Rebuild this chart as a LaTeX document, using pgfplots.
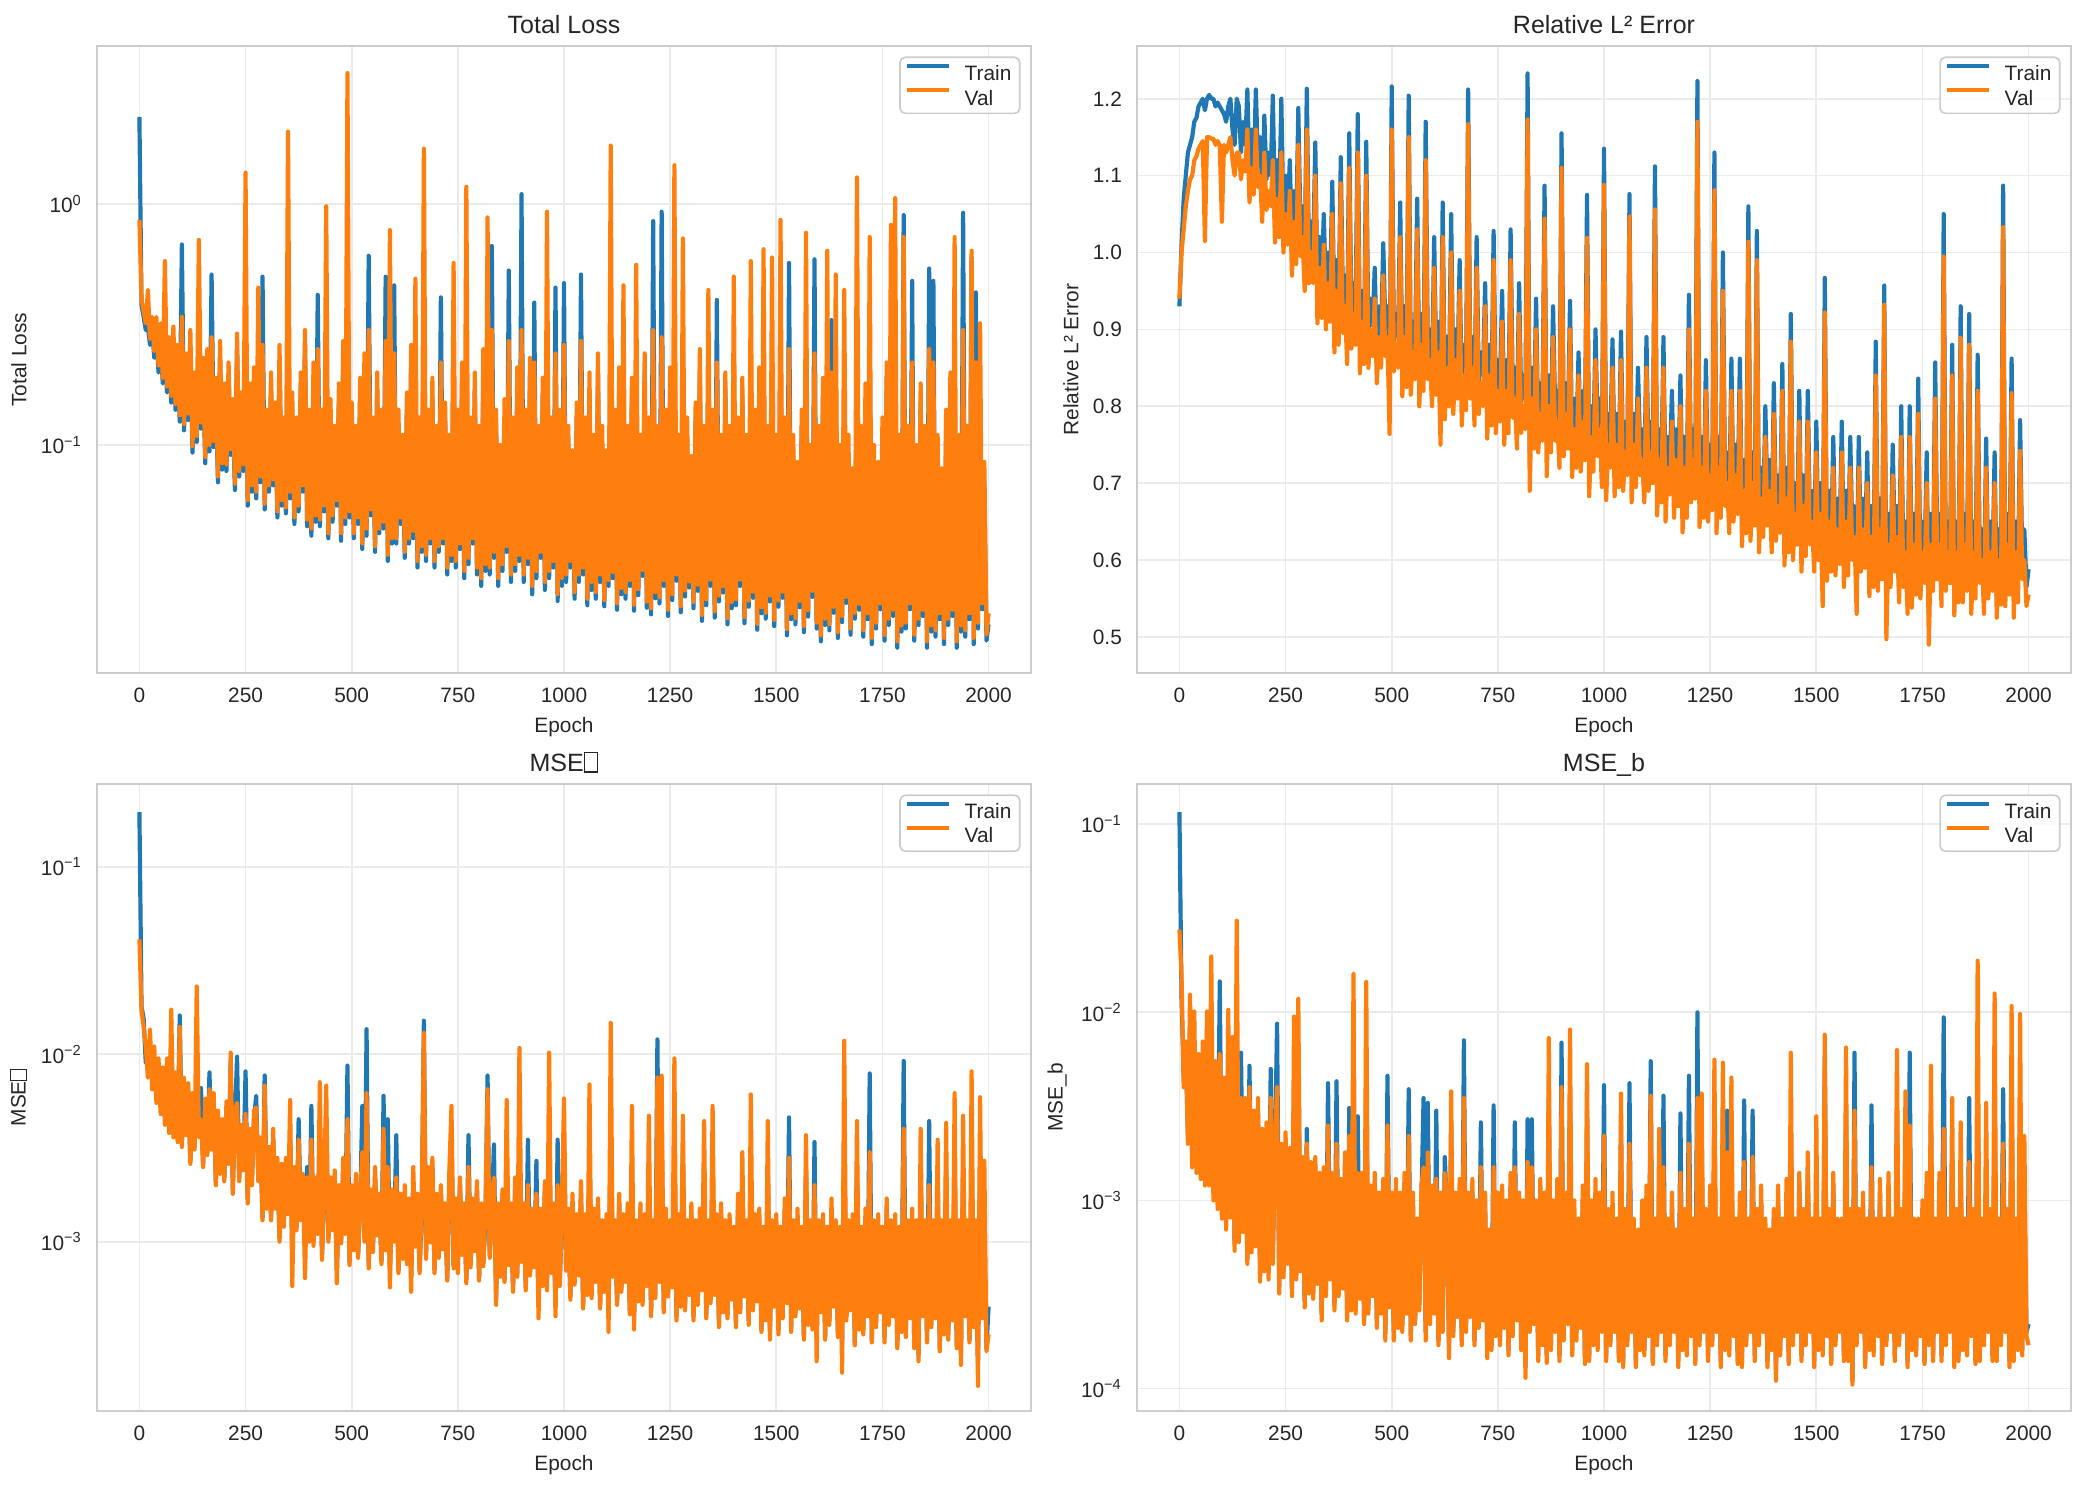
\documentclass[border=0pt]{standalone}
\usepackage{fontspec}
\setmainfont{Liberation Sans}
\usepackage{pgfplots}
\pgfplotsset{compat=1.18}
\usepackage{pgfplotstable}
\definecolor{cTrain}{HTML}{1F77B4}
\definecolor{cVal}{HTML}{FF7F0E}
\definecolor{cGrid}{HTML}{EBEBEB}
\definecolor{cSpine}{HTML}{CCCCCC}
\definecolor{cText}{HTML}{262626}
\newcommand{\tofu}{{\setlength{\fboxsep}{0pt}\setlength{\fboxrule}{0.5pt}\fbox{\rule{0pt}{0.72em}\hspace{0.5em}}}}

\pgfplotstableread[row sep=\\]{
x t v\\
0 2.3 0.86\\ 5 0.38 0.40\\ 10 0.34 0.36\\ 15 0.30 0.32\\ 20 0.31 0.44\\ 25 0.26 0.275\\ 30 0.30 0.34\\ 35 0.23 0.245\\ 40 0.29 0.34\\ 45 0.20 0.213\\
50 0.27 0.32\\ 55 0.18 0.19\\ 60 0.26 0.58\\ 65 0.165 0.175\\ 70 0.24 0.28\\ 75 0.15 0.16\\ 80 0.27 0.31\\ 85 0.14 0.148\\ 90 0.22 0.26\\ 95 0.125 0.133\\
100 0.68 0.34\\ 105 0.115 0.122\\ 110 0.20 0.24\\ 115 0.127 0.135\\ 120 0.26 0.30\\ 125 0.093 0.099\\ 130 0.17 0.20\\ 135 0.103 0.109\\ 140 0.30 0.71\\ 145 0.117 0.124\\
150 0.19 0.23\\ 155 0.084 0.089\\ 160 0.21 0.25\\ 165 0.094 0.1\\ 170 0.51 0.28\\ 175 0.098 0.104\\ 180 0.16 0.19\\ 185 0.070 0.074\\ 190 0.23 0.27\\ 195 0.079 0.084\\
200 0.15 0.18\\ 205 0.078 0.083\\ 210 0.19 0.22\\ 215 0.091 0.096\\ 220 0.13 0.155\\ 225 0.065 0.069\\ 230 0.25 0.29\\ 235 0.074 0.078\\ 240 0.14 0.165\\ 245 0.078 0.083\\
250 0.30 1.35\\ 255 0.056 0.059\\ 260 0.15 0.18\\ 265 0.064 0.068\\ 270 0.18 0.21\\ 275 0.06 0.064\\ 280 0.21 0.45\\ 285 0.07 0.074\\ 290 0.50 0.26\\ 295 0.054 0.057\\
300 0.12 0.14\\ 305 0.064 0.068\\ 310 0.17 0.20\\ 315 0.068 0.072\\ 320 0.13 0.15\\ 325 0.05 0.053\\ 330 0.22 0.26\\ 335 0.056 0.059\\ 340 0.11 0.13\\ 345 0.052 0.055\\
350 0.24 2.0\\ 355 0.06 0.064\\ 360 0.14 0.165\\ 365 0.047 0.05\\ 370 0.11 0.13\\ 375 0.053 0.056\\ 380 0.17 0.20\\ 385 0.064 0.068\\ 390 0.26 0.30\\ 395 0.046 0.049\\
400 0.12 0.14\\ 405 0.042 0.045\\ 410 0.19 0.22\\ 415 0.048 0.051\\ 420 0.42 0.25\\ 425 0.046 0.049\\ 430 0.12 0.14\\ 435 0.053 0.056\\ 440 0.21 0.98\\ 445 0.041 0.043\\
450 0.13 0.155\\ 455 0.048 0.051\\ 460 0.10 0.12\\ 465 0.056 0.059\\ 470 0.15 0.18\\ 475 0.040 0.043\\ 480 0.23 0.27\\ 485 0.047 0.05\\ 490 0.30 3.5\\ 495 0.05 0.053\\
500 0.13 0.15\\ 505 0.041 0.043\\ 510 0.10 0.12\\ 515 0.047 0.05\\ 520 0.16 0.19\\ 525 0.037 0.039\\ 530 0.20 0.24\\ 535 0.042 0.045\\ 540 0.61 0.30\\ 545 0.051 0.054\\
550 0.11 0.13\\ 555 0.036 0.038\\ 560 0.17 0.20\\ 565 0.043 0.045\\ 570 0.12 0.14\\ 575 0.045 0.048\\ 580 0.50 0.27\\ 585 0.033 0.035\\ 590 0.20 0.78\\ 595 0.039 0.041\\
600 0.46 0.24\\ 605 0.039 0.041\\ 610 0.12 0.14\\ 615 0.047 0.05\\ 620 0.09 0.11\\ 625 0.034 0.036\\ 630 0.14 0.165\\ 635 0.039 0.041\\ 640 0.22 0.26\\ 645 0.041 0.044\\
650 0.20 0.49\\ 655 0.031 0.033\\ 660 0.11 0.13\\ 665 0.036 0.038\\ 670 0.30 1.7\\ 675 0.033 0.035\\ 680 0.12 0.14\\ 685 0.039 0.041\\ 690 0.16 0.19\\ 695 0.031 0.033\\
700 0.10 0.12\\ 705 0.036 0.038\\ 710 0.41 0.22\\ 715 0.039 0.041\\ 720 0.13 0.15\\ 725 0.029 0.031\\ 730 0.09 0.11\\ 735 0.033 0.035\\ 740 0.25 0.57\\ 745 0.031 0.033\\
750 0.12 0.14\\ 755 0.037 0.039\\ 760 0.19 0.22\\ 765 0.028 0.03\\ 770 0.30 1.18\\ 775 0.032 0.034\\ 780 0.11 0.13\\ 785 0.039 0.041\\ 790 0.17 0.20\\ 795 0.029 0.031\\
800 0.10 0.12\\ 805 0.026 0.028\\ 810 0.21 0.25\\ 815 0.03 0.032\\ 820 0.25 0.88\\ 825 0.029 0.031\\ 830 0.67 0.30\\ 835 0.034 0.036\\ 840 0.12 0.14\\ 845 0.026 0.028\\
850 0.085 0.10\\ 855 0.03 0.032\\ 860 0.13 0.155\\ 865 0.036 0.038\\ 870 0.53 0.27\\ 875 0.027 0.029\\ 880 0.11 0.13\\ 885 0.03 0.032\\ 890 0.18 0.21\\ 895 0.033 0.035\\
900 1.1 0.30\\ 905 0.027 0.029\\ 910 0.12 0.14\\ 915 0.032 0.034\\ 920 0.20 0.23\\ 925 0.024 0.026\\ 930 0.39 0.22\\ 935 0.028 0.03\\ 940 0.10 0.12\\ 945 0.034 0.036\\
950 0.16 0.19\\ 955 0.025 0.027\\ 960 0.26 0.93\\ 965 0.028 0.03\\ 970 0.11 0.13\\ 975 0.031 0.033\\ 980 0.45 0.24\\ 985 0.0225 0.024\\ 990 0.12 0.14\\ 995 0.026 0.028\\
1000 0.47 0.26\\ 1005 0.027 0.029\\ 1010 0.10 0.12\\ 1015 0.031 0.033\\ 1020 0.08 0.095\\ 1025 0.023 0.0245\\ 1030 0.13 0.15\\ 1035 0.027 0.029\\ 1040 0.51 0.27\\ 1045 0.029 0.031\\
1050 0.11 0.13\\ 1055 0.0216 0.023\\ 1060 0.17 0.20\\ 1065 0.025 0.027\\ 1070 0.09 0.11\\ 1075 0.023 0.0245\\ 1080 0.20 0.24\\ 1085 0.027 0.029\\ 1090 0.10 0.12\\ 1095 0.0214 0.0227\\
1100 0.08 0.095\\ 1105 0.026 0.0275\\ 1110 0.30 1.75\\ 1115 0.028 0.0297\\ 1120 0.12 0.14\\ 1125 0.0207 0.022\\ 1130 0.18 0.21\\ 1135 0.024 0.0255\\ 1140 0.20 0.46\\ 1145 0.023 0.0245\\
1150 0.10 0.12\\ 1155 0.026 0.0275\\ 1160 0.16 0.19\\ 1165 0.0205 0.0217\\ 1170 0.22 0.56\\ 1175 0.0238 0.0252\\ 1180 0.09 0.11\\ 1185 0.0286 0.0303\\ 1190 0.20 0.24\\ 1195 0.0211 0.0224\\
1200 0.11 0.13\\ 1205 0.0198 0.021\\ 1210 0.85 0.30\\ 1215 0.0231 0.0245\\ 1220 0.10 0.12\\ 1225 0.022 0.0233\\ 1230 0.93 0.28\\ 1235 0.026 0.0275\\ 1240 0.12 0.14\\ 1245 0.0195 0.0207\\
1250 0.18 0.21\\ 1255 0.0227 0.024\\ 1260 0.30 1.45\\ 1265 0.0273 0.029\\ 1270 0.09 0.11\\ 1275 0.0202 0.0214\\ 1280 0.25 0.72\\ 1285 0.0235 0.0249\\ 1290 0.11 0.13\\ 1295 0.0256 0.0271\\
1300 0.075 0.09\\ 1305 0.021 0.0223\\ 1310 0.13 0.15\\ 1315 0.0248 0.0263\\ 1320 0.21 0.25\\ 1325 0.0186 0.0197\\ 1330 0.10 0.12\\ 1335 0.0216 0.0229\\ 1340 0.20 0.44\\ 1345 0.026 0.0276\\
1350 0.12 0.14\\ 1355 0.0192 0.0204\\ 1360 0.40 0.22\\ 1365 0.0224 0.0237\\ 1370 0.09 0.11\\ 1375 0.0244 0.0259\\ 1380 0.17 0.20\\ 1385 0.018 0.0191\\ 1390 0.10 0.12\\ 1395 0.021 0.0223\\
1400 0.22 0.50\\ 1405 0.0216 0.0229\\ 1410 0.11 0.13\\ 1415 0.026 0.0276\\ 1420 0.16 0.19\\ 1425 0.0182 0.0193\\ 1430 0.09 0.11\\ 1435 0.0213 0.0226\\ 1440 0.21 0.58\\ 1445 0.0232 0.0246\\
1450 0.12 0.14\\ 1455 0.0171 0.0181\\ 1460 0.18 0.21\\ 1465 0.02 0.0212\\ 1470 0.23 0.65\\ 1475 0.019 0.0201\\ 1480 0.10 0.12\\ 1485 0.0224 0.0237\\ 1490 0.25 0.60\\ 1495 0.0177 0.0188\\
1500 0.09 0.11\\ 1505 0.0213 0.0226\\ 1510 0.30 0.86\\ 1515 0.0232 0.0246\\ 1520 0.11 0.13\\ 1525 0.0162 0.0172\\ 1530 0.57 0.25\\ 1535 0.0189 0.02\\ 1540 0.09 0.11\\ 1545 0.018 0.0191\\
1550 0.07 0.085\\ 1555 0.0212 0.0225\\ 1560 0.12 0.14\\ 1565 0.0167 0.0177\\ 1570 0.25 0.76\\ 1575 0.0194 0.0206\\ 1580 0.08 0.10\\ 1585 0.0234 0.0248\\ 1590 0.59 0.24\\ 1595 0.0173 0.0183\\
1600 0.10 0.12\\ 1605 0.0153 0.0162\\ 1610 0.16 0.19\\ 1615 0.0179 0.019\\ 1620 0.22 0.64\\ 1625 0.017 0.018\\ 1630 0.33 0.20\\ 1635 0.0201 0.0213\\ 1640 0.20 0.51\\ 1645 0.0158 0.0167\\
1650 0.08 0.10\\ 1655 0.0184 0.0195\\ 1660 0.18 0.44\\ 1665 0.0221 0.0234\\ 1670 0.09 0.11\\ 1675 0.0163 0.0173\\ 1680 0.065 0.08\\ 1685 0.019 0.0201\\ 1690 0.30 1.29\\ 1695 0.0207 0.0219\\
1700 0.10 0.12\\ 1705 0.016 0.017\\ 1710 0.15 0.18\\ 1715 0.0189 0.02\\ 1720 0.25 0.73\\ 1725 0.0149 0.0158\\ 1730 0.08 0.10\\ 1735 0.0173 0.0183\\ 1740 0.07 0.085\\ 1745 0.0208 0.022\\
1750 0.11 0.13\\ 1755 0.0154 0.0163\\ 1760 0.19 0.22\\ 1765 0.0179 0.019\\ 1770 0.25 0.82\\ 1775 0.0195 0.0207\\ 1780 0.30 1.06\\ 1785 0.0144 0.0153\\ 1790 0.09 0.11\\ 1795 0.0168 0.0178\\
1800 0.90 0.73\\ 1805 0.0173 0.0183\\ 1810 0.10 0.12\\ 1815 0.0208 0.022\\ 1820 0.48 0.22\\ 1825 0.0154 0.0163\\ 1830 0.08 0.10\\ 1835 0.0179 0.019\\ 1840 0.15 0.18\\ 1845 0.0195 0.0207\\
1850 0.10 0.12\\ 1855 0.0144 0.0153\\ 1860 0.54 0.25\\ 1865 0.0168 0.0178\\ 1870 0.48 0.22\\ 1875 0.016 0.017\\ 1880 0.09 0.11\\ 1885 0.0189 0.02\\ 1890 0.065 0.08\\ 1895 0.0149 0.0158\\
1900 0.12 0.14\\ 1905 0.0179 0.019\\ 1910 0.17 0.20\\ 1915 0.0195 0.0207\\ 1920 0.20 0.73\\ 1925 0.0144 0.0153\\ 1930 0.09 0.11\\ 1935 0.0168 0.0178\\ 1940 0.92 0.30\\ 1945 0.016 0.017\\
1950 0.10 0.12\\ 1955 0.0189 0.02\\ 1960 0.60 0.64\\ 1965 0.0149 0.0158\\ 1970 0.43 0.22\\ 1975 0.0173 0.0183\\ 1980 0.15 0.32\\ 1985 0.0208 0.022\\ 1990 0.07 0.085\\ 1995 0.0154 0.0163\\
2000 0.018 0.02\\
}\tabTL

\pgfplotstableread[row sep=\\]{
x t v\\
0 0.93 0.94\\ 5 1.01 1.0\\ 10 1.07 1.03\\ 15 1.10 1.06\\ 20 1.13 1.08\\ 25 1.14 1.095\\ 30 1.15 1.10\\ 35 1.17 1.12\\ 40 1.175 1.125\\ 45 1.19 1.135\\
50 1.195 1.14\\ 55 1.20 1.145\\ 60 1.185 1.015\\ 65 1.20 1.15\\ 70 1.205 1.15\\ 75 1.20 1.148\\ 80 1.20 1.148\\ 85 1.19 1.14\\ 90 1.195 1.145\\ 95 1.19 1.14\\
100 1.185 1.04\\ 105 1.18 1.14\\ 110 1.17 1.13\\ 115 1.19 1.14\\ 120 1.20 1.15\\ 125 1.16 1.12\\ 130 1.14 1.10\\ 135 1.20 1.13\\ 140 1.19 1.13\\ 145 1.13 1.095\\
150 1.17 1.12\\ 155 1.14 1.105\\ 160 1.212 1.16\\ 165 1.10 1.065\\ 170 1.16 1.11\\ 175 1.11 1.075\\ 180 1.212 1.16\\ 185 1.12 1.085\\ 190 1.15 1.10\\ 195 1.08 1.04\\
200 1.178 1.13\\ 205 1.095 1.055\\ 210 1.13 1.08\\ 215 1.10 1.06\\ 220 1.204 1.12\\ 225 1.053 1.013\\ 230 1.12 1.07\\ 235 1.06 1.02\\ 240 1.20 1.13\\ 245 1.04 1.0\\
250 1.10 1.05\\ 255 1.05 1.01\\ 260 1.12 1.08\\ 265 1.01 0.97\\ 270 1.08 1.04\\ 275 1.025 0.985\\ 280 1.188 1.14\\ 285 1.035 0.995\\ 290 1.06 1.02\\ 295 0.99 0.95\\
300 1.213 1.16\\ 305 1.0 0.96\\ 310 1.04 1.0\\ 315 1.0 0.96\\ 320 1.143 1.10\\ 325 0.953 0.908\\ 330 1.02 0.98\\ 335 0.96 0.915\\ 340 1.05 1.01\\ 345 0.945 0.90\\
350 1.0 0.96\\ 355 0.955 0.91\\ 360 1.092 1.05\\ 365 0.915 0.87\\ 370 0.99 0.95\\ 375 0.925 0.88\\ 380 1.124 1.09\\ 385 0.94 0.895\\ 390 0.97 0.93\\ 395 0.90 0.855\\
400 1.155 1.11\\ 405 0.915 0.875\\ 410 0.96 0.92\\ 415 0.925 0.88\\ 420 1.18 1.13\\ 425 0.883 0.843\\ 430 0.95 0.91\\ 435 0.895 0.855\\ 440 1.144 1.10\\ 445 0.89 0.85\\
450 0.94 0.90\\ 455 0.905 0.865\\ 460 0.98 0.94\\ 465 0.87 0.83\\ 470 0.93 0.89\\ 475 0.89 0.85\\ 480 1.012 0.97\\ 485 0.905 0.865\\ 490 0.93 0.89\\ 495 0.80 0.764\\
500 1.216 1.16\\ 505 0.885 0.845\\ 510 0.92 0.88\\ 515 0.89 0.85\\ 520 1.065 1.02\\ 525 0.853 0.813\\ 530 0.93 0.89\\ 535 0.865 0.825\\ 540 1.204 1.15\\ 545 0.855 0.815\\
550 0.91 0.87\\ 555 0.875 0.835\\ 560 1.07 1.03\\ 565 0.84 0.80\\ 570 0.92 0.88\\ 575 0.86 0.82\\ 580 1.17 1.12\\ 585 0.875 0.835\\ 590 0.90 0.86\\ 595 0.84 0.80\\
600 1.02 0.98\\ 605 0.855 0.815\\ 610 0.91 0.87\\ 615 0.79 0.75\\ 620 1.065 1.02\\ 625 0.823 0.783\\ 630 0.89 0.85\\ 635 0.84 0.80\\ 640 1.05 1.0\\ 645 0.83 0.79\\
650 0.90 0.86\\ 655 0.85 0.81\\ 660 0.99 0.95\\ 665 0.815 0.775\\ 670 0.88 0.84\\ 675 0.835 0.795\\ 680 1.212 1.167\\ 685 0.85 0.81\\ 690 0.89 0.85\\ 695 0.815 0.775\\
700 1.02 0.98\\ 705 0.83 0.79\\ 710 0.87 0.83\\ 715 0.84 0.80\\ 720 0.96 0.93\\ 725 0.798 0.758\\ 730 0.88 0.84\\ 735 0.815 0.775\\ 740 1.028 0.99\\ 745 0.805 0.765\\
750 0.86 0.82\\ 755 0.82 0.78\\ 760 0.95 0.91\\ 765 0.79 0.75\\ 770 0.86 0.82\\ 775 0.805 0.765\\ 780 1.03 0.99\\ 785 0.825 0.785\\ 790 0.85 0.81\\ 795 0.785 0.745\\
800 0.96 0.92\\ 805 0.805 0.765\\ 810 0.84 0.80\\ 815 0.81 0.77\\ 820 1.233 1.173\\ 825 0.74 0.69\\ 830 0.85 0.81\\ 835 0.785 0.745\\ 840 0.94 0.90\\ 845 0.775 0.74\\
850 0.83 0.79\\ 855 0.79 0.755\\ 860 1.087 1.044\\ 865 0.75 0.709\\ 870 0.84 0.80\\ 875 0.775 0.74\\ 880 0.93 0.89\\ 885 0.795 0.755\\ 890 0.82 0.78\\ 895 0.755 0.72\\
900 1.155 1.11\\ 905 0.775 0.735\\ 910 0.83 0.79\\ 915 0.78 0.745\\ 920 0.937 0.90\\ 925 0.743 0.708\\ 930 0.81 0.77\\ 935 0.755 0.72\\ 940 0.87 0.84\\ 945 0.75 0.715\\
950 0.82 0.78\\ 955 0.765 0.73\\ 960 1.075 1.019\\ 965 0.72 0.683\\ 970 0.80 0.76\\ 975 0.75 0.715\\ 980 0.90 0.86\\ 985 0.77 0.735\\ 990 0.81 0.77\\ 995 0.73 0.695\\
1000 1.135 1.088\\ 1005 0.715 0.678\\ 1010 0.79 0.75\\ 1015 0.755 0.72\\ 1020 0.887 0.85\\ 1025 0.718 0.683\\ 1030 0.79 0.75\\ 1035 0.73 0.695\\ 1040 0.897 0.86\\ 1045 0.725 0.69\\
1050 0.78 0.74\\ 1055 0.74 0.71\\ 1060 1.076 1.047\\ 1065 0.71 0.675\\ 1070 0.79 0.75\\ 1075 0.725 0.695\\ 1080 0.85 0.81\\ 1085 0.745 0.71\\ 1090 0.77 0.73\\ 1095 0.705 0.675\\
1100 0.89 0.85\\ 1105 0.725 0.69\\ 1110 0.78 0.74\\ 1115 0.73 0.70\\ 1120 1.112 1.056\\ 1125 0.693 0.658\\ 1130 0.77 0.73\\ 1135 0.705 0.675\\ 1140 0.89 0.85\\ 1145 0.69 0.65\\
1150 0.76 0.72\\ 1155 0.72 0.685\\ 1160 0.82 0.78\\ 1165 0.685 0.655\\ 1170 0.77 0.73\\ 1175 0.705 0.67\\ 1180 0.84 0.80\\ 1185 0.675 0.636\\ 1190 0.76 0.72\\ 1195 0.685 0.655\\
1200 0.945 0.90\\ 1205 0.705 0.675\\ 1210 0.77 0.73\\ 1215 0.71 0.68\\ 1220 1.223 1.17\\ 1225 0.673 0.643\\ 1230 0.76 0.72\\ 1235 0.685 0.655\\ 1240 0.86 0.82\\ 1245 0.68 0.65\\
1250 0.75 0.71\\ 1255 0.70 0.665\\ 1260 1.13 1.081\\ 1265 0.665 0.635\\ 1270 0.76 0.72\\ 1275 0.685 0.655\\ 1280 1.0 0.95\\ 1285 0.70 0.67\\ 1290 0.74 0.70\\ 1295 0.665 0.635\\
1300 0.862 0.82\\ 1305 0.68 0.65\\ 1310 0.75 0.71\\ 1315 0.69 0.66\\ 1320 0.862 0.82\\ 1325 0.648 0.618\\ 1330 0.73 0.69\\ 1335 0.665 0.635\\ 1340 1.06 1.014\\ 1345 0.655 0.625\\
1350 0.74 0.70\\ 1355 0.675 0.645\\ 1360 1.028 0.99\\ 1365 0.64 0.61\\ 1370 0.72 0.68\\ 1375 0.66 0.63\\ 1380 0.80 0.76\\ 1385 0.675 0.645\\ 1390 0.73 0.69\\ 1395 0.64 0.61\\
1400 0.83 0.79\\ 1405 0.655 0.625\\ 1410 0.71 0.67\\ 1415 0.665 0.635\\ 1420 0.855 0.82\\ 1425 0.623 0.593\\ 1430 0.72 0.68\\ 1435 0.64 0.61\\ 1440 0.92 0.884\\ 1445 0.63 0.60\\
1450 0.70 0.66\\ 1455 0.65 0.62\\ 1460 0.82 0.78\\ 1465 0.615 0.585\\ 1470 0.71 0.67\\ 1475 0.635 0.605\\ 1480 0.82 0.78\\ 1485 0.65 0.62\\ 1490 0.69 0.65\\ 1495 0.615 0.585\\
1500 0.78 0.74\\ 1505 0.63 0.60\\ 1510 0.70 0.66\\ 1515 0.58 0.54\\ 1520 0.967 0.922\\ 1525 0.603 0.573\\ 1530 0.69 0.65\\ 1535 0.615 0.585\\ 1540 0.76 0.72\\ 1545 0.61 0.58\\
1550 0.68 0.64\\ 1555 0.625 0.595\\ 1560 0.78 0.74\\ 1565 0.595 0.565\\ 1570 0.69 0.65\\ 1575 0.61 0.58\\ 1580 0.76 0.72\\ 1585 0.63 0.60\\ 1590 0.67 0.63\\ 1595 0.57 0.53\\
1600 0.76 0.72\\ 1605 0.615 0.585\\ 1610 0.68 0.64\\ 1615 0.62 0.59\\ 1620 0.74 0.70\\ 1625 0.583 0.553\\ 1630 0.67 0.63\\ 1635 0.595 0.565\\ 1640 0.884 0.84\\ 1645 0.59 0.56\\
1650 0.68 0.64\\ 1655 0.605 0.575\\ 1660 0.957 0.932\\ 1665 0.54 0.497\\ 1670 0.66 0.62\\ 1675 0.595 0.565\\ 1680 0.75 0.71\\ 1685 0.615 0.585\\ 1690 0.67 0.63\\ 1695 0.575 0.545\\
1700 0.80 0.76\\ 1705 0.595 0.565\\ 1710 0.65 0.61\\ 1715 0.57 0.53\\ 1720 0.80 0.76\\ 1725 0.568 0.538\\ 1730 0.66 0.62\\ 1735 0.585 0.555\\ 1740 0.836 0.79\\ 1745 0.58 0.55\\
1750 0.65 0.61\\ 1755 0.60 0.57\\ 1760 0.74 0.70\\ 1765 0.53 0.49\\ 1770 0.66 0.62\\ 1775 0.59 0.56\\ 1780 0.857 0.81\\ 1785 0.605 0.575\\ 1790 0.66 0.62\\ 1795 0.57 0.54\\
1800 1.05 0.995\\ 1805 0.59 0.56\\ 1810 0.65 0.61\\ 1815 0.60 0.57\\ 1820 0.88 0.84\\ 1825 0.558 0.528\\ 1830 0.65 0.61\\ 1835 0.575 0.545\\ 1840 0.93 0.889\\ 1845 0.575 0.545\\
1850 0.66 0.62\\ 1855 0.59 0.56\\ 1860 0.92 0.88\\ 1865 0.56 0.53\\ 1870 0.65 0.61\\ 1875 0.58 0.55\\ 1880 0.867 0.82\\ 1885 0.60 0.57\\ 1890 0.64 0.60\\ 1895 0.56 0.53\\
1900 0.758 0.72\\ 1905 0.58 0.55\\ 1910 0.65 0.61\\ 1915 0.59 0.56\\ 1920 0.74 0.70\\ 1925 0.553 0.525\\ 1930 0.64 0.60\\ 1935 0.58 0.542\\ 1940 1.087 1.033\\ 1945 0.57 0.54\\
1950 0.66 0.62\\ 1955 0.585 0.555\\ 1960 0.862 0.817\\ 1965 0.555 0.525\\ 1970 0.65 0.61\\ 1975 0.575 0.545\\ 1980 0.782 0.742\\ 1985 0.60 0.575\\ 1990 0.64 0.60\\ 1995 0.565 0.54\\
2000 0.588 0.555\\
}\tabTR

\pgfplotstableread[row sep=\\]{
x t v\\
0 0.196 0.041\\ 5 0.018 0.017\\ 10 0.0155 0.014\\ 15 0.009 0.011\\ 20 0.0095 0.0075\\ 25 0.011 0.0135\\ 30 0.0075 0.0065\\ 35 0.009 0.011\\ 40 0.0065 0.0055\\ 45 0.009 0.0095\\
50 0.0052 0.0048\\ 55 0.0075 0.0085\\ 60 0.0046 0.0042\\ 65 0.0085 0.0095\\ 70 0.0042 0.0038\\ 75 0.012 0.0173\\ 80 0.004 0.0036\\ 85 0.007 0.008\\ 90 0.0038 0.0034\\ 95 0.0161 0.014\\
100 0.0034 0.0032\\ 105 0.0065 0.0075\\ 110 0.0039 0.0037\\ 115 0.006 0.007\\ 120 0.0027 0.0026\\ 125 0.0055 0.0062\\ 130 0.0032 0.0031\\ 135 0.0085 0.023\\ 140 0.0038 0.0036\\ 145 0.0066 0.0045\\
150 0.0026 0.0025\\ 155 0.005 0.0058\\ 160 0.003 0.0029\\ 165 0.008 0.0065\\ 170 0.0032 0.0031\\ 175 0.0055 0.0062\\ 180 0.0021 0.002\\ 185 0.0045 0.005\\ 190 0.0024 0.0023\\ 195 0.004 0.0045\\
200 0.0022 0.0021\\ 205 0.005 0.0056\\ 210 0.0027 0.0026\\ 215 0.009 0.0102\\ 220 0.0019 0.0018\\ 225 0.0045 0.005\\ 230 0.0097 0.0055\\ 235 0.0022 0.0021\\ 240 0.0038 0.0042\\ 245 0.0025 0.0024\\
250 0.0081 0.0048\\ 255 0.0017 0.0016\\ 260 0.0035 0.004\\ 265 0.0021 0.002\\ 270 0.0045 0.005\\ 275 0.006 0.0052\\ 280 0.0022 0.0021\\ 285 0.0032 0.0036\\ 290 0.00135 0.0013\\ 295 0.0077 0.0068\\
300 0.0016 0.0015\\ 305 0.0028 0.0032\\ 310 0.00135 0.0013\\ 315 0.0035 0.004\\ 320 0.00155 0.0015\\ 325 0.0025 0.0028\\ 330 0.00105 0.001\\ 335 0.0023 0.0026\\ 340 0.00125 0.0012\\ 345 0.0025 0.0028\\
350 0.00145 0.0014\\ 355 0.0035 0.0057\\ 360 0.0009 0.00058\\ 365 0.0022 0.0025\\ 370 0.0012 0.00115\\ 375 0.0045 0.0035\\ 380 0.00135 0.0013\\ 385 0.002 0.0023\\ 390 0.00095 0.00064\\ 395 0.0025 0.0022\\
400 0.00105 0.001\\ 405 0.0053 0.0035\\ 410 0.001 0.00095\\ 415 0.0019 0.0022\\ 420 0.00115 0.0011\\ 425 0.0045 0.0071\\ 430 0.00085 0.0008\\ 435 0.0018 0.002\\ 440 0.004 0.0068\\ 445 0.00105 0.001\\
450 0.002 0.0022\\ 455 0.0012 0.00115\\ 460 0.0021 0.0024\\ 465 0.0007 0.0006\\ 470 0.0018 0.002\\ 475 0.001 0.00098\\ 480 0.0025 0.0028\\ 485 0.00115 0.0011\\ 490 0.0087 0.0045\\ 495 0.00078 0.00075\\
500 0.0018 0.002\\ 505 0.00093 0.0009\\ 510 0.002 0.0023\\ 515 0.00085 0.00082\\ 520 0.0016 0.0018\\ 525 0.0053 0.003\\ 530 0.00105 0.001\\ 535 0.0136 0.0062\\ 540 0.00075 0.00072\\ 545 0.0017 0.0019\\
550 0.00092 0.00088\\ 555 0.0022 0.0025\\ 560 0.00112 0.00108\\ 565 0.0016 0.0018\\ 570 0.00079 0.00076\\ 575 0.006 0.004\\ 580 0.00093 0.0009\\ 585 0.0045 0.0025\\ 590 0.0007 0.00057\\ 595 0.0017 0.0019\\
600 0.00105 0.001\\ 605 0.0037 0.0022\\ 610 0.0007 0.00068\\ 615 0.0016 0.0018\\ 620 0.00084 0.00081\\ 625 0.0018 0.002\\ 630 0.00079 0.00076\\ 635 0.0015 0.0017\\ 640 0.00065 0.00054\\ 645 0.002 0.0025\\
650 0.00098 0.00094\\ 655 0.0016 0.0018\\ 660 0.0007 0.00068\\ 665 0.0015 0.0017\\ 670 0.0151 0.013\\ 675 0.00084 0.00081\\ 680 0.0022 0.0025\\ 685 0.00103 0.00099\\ 690 0.0025 0.0028\\ 695 0.00071 0.00068\\
700 0.0016 0.0018\\ 705 0.00085 0.00082\\ 710 0.0018 0.002\\ 715 0.00095 0.00091\\ 720 0.0014 0.0016\\ 725 0.00064 0.00062\\ 730 0.0021 0.0024\\ 735 0.0035 0.0053\\ 740 0.00075 0.00072\\ 745 0.0015 0.0017\\
750 0.00071 0.00068\\ 755 0.002 0.0022\\ 760 0.00088 0.00085\\ 765 0.0014 0.0016\\ 770 0.00063 0.0006\\ 775 0.0037 0.0025\\ 780 0.00076 0.00073\\ 785 0.0015 0.0017\\ 790 0.00093 0.00089\\ 795 0.0019 0.0021\\
800 0.00064 0.00062\\ 805 0.0014 0.0016\\ 810 0.00077 0.00074\\ 815 0.0013 0.0015\\ 820 0.0077 0.0065\\ 825 0.00085 0.00082\\ 830 0.0015 0.0017\\ 835 0.0033 0.0022\\ 840 0.0005 0.00046\\ 845 0.0014 0.0016\\
850 0.00068 0.00065\\ 855 0.0017 0.0019\\ 860 0.00063 0.00061\\ 865 0.003 0.0057\\ 870 0.00078 0.00075\\ 875 0.0014 0.0016\\ 880 0.00056 0.00054\\ 885 0.002 0.0022\\ 890 0.00068 0.00065\\ 895 0.003 0.0108\\
900 0.00081 0.00078\\ 905 0.0014 0.0016\\ 910 0.00057 0.00055\\ 915 0.0035 0.002\\ 920 0.00068 0.00066\\ 925 0.0013 0.0015\\ 930 0.00076 0.00073\\ 935 0.0027 0.0018\\ 940 0.00045 0.00039\\ 945 0.0013 0.0015\\
950 0.0006 0.00058\\ 955 0.0019 0.0021\\ 960 0.00057 0.00055\\ 965 0.0035 0.0102\\ 970 0.0007 0.00068\\ 975 0.0014 0.0016\\ 980 0.00045 0.0004\\ 985 0.0035 0.002\\ 990 0.0006 0.00058\\ 995 0.0013 0.0015\\
1000 0.0035 0.0058\\ 1005 0.00073 0.0007\\ 1010 0.0013 0.0015\\ 1015 0.00051 0.00049\\ 1020 0.0016 0.0018\\ 1025 0.00061 0.00059\\ 1030 0.0012 0.0014\\ 1035 0.00069 0.00066\\ 1040 0.0018 0.0021\\ 1045 0.00046 0.00044\\
1050 0.0012 0.0014\\ 1055 0.00055 0.00052\\ 1060 0.003 0.0069\\ 1065 0.00052 0.0005\\ 1070 0.0013 0.0015\\ 1075 0.00064 0.00061\\ 1080 0.0015 0.0017\\ 1085 0.00046 0.00044\\ 1090 0.0011 0.0013\\ 1095 0.00056 0.00054\\
1100 0.0012 0.0014\\ 1105 0.0004 0.00033\\ 1110 0.004 0.0147\\ 1115 0.00068 0.00065\\ 1120 0.0011 0.0013\\ 1125 0.00048 0.00046\\ 1130 0.0016 0.0018\\ 1135 0.00056 0.00054\\ 1140 0.0012 0.0014\\ 1145 0.00064 0.00061\\
1150 0.0014 0.0016\\ 1155 0.00043 0.00041\\ 1160 0.0025 0.0053\\ 1165 0.0004 0.00034\\ 1170 0.0011 0.0013\\ 1175 0.0005 0.00048\\ 1180 0.0014 0.0016\\ 1185 0.00048 0.00046\\ 1190 0.0012 0.0014\\ 1195 0.0006 0.00058\\
1200 0.002 0.0047\\ 1205 0.00042 0.0004\\ 1210 0.0011 0.0013\\ 1215 0.00052 0.0005\\ 1220 0.012 0.0075\\ 1225 0.00063 0.00061\\ 1230 0.004 0.0077\\ 1235 0.00044 0.00042\\ 1240 0.0013 0.0015\\ 1245 0.00053 0.00051\\
1250 0.0011 0.0013\\ 1255 0.0006 0.00057\\ 1260 0.0035 0.0095\\ 1265 0.0004 0.00038\\ 1270 0.0012 0.0014\\ 1275 0.00047 0.00045\\ 1280 0.003 0.0047\\ 1285 0.00045 0.00043\\ 1290 0.0011 0.0013\\ 1295 0.00055 0.00052\\
1300 0.0014 0.0016\\ 1305 0.0004 0.00038\\ 1310 0.0011 0.0013\\ 1315 0.00048 0.00046\\ 1320 0.0013 0.0015\\ 1325 0.00058 0.00055\\ 1330 0.0025 0.0044\\ 1335 0.00041 0.00039\\ 1340 0.0011 0.0013\\ 1345 0.00049 0.00047\\
1350 0.0025 0.0053\\ 1355 0.00054 0.00052\\ 1360 0.0012 0.0014\\ 1365 0.00037 0.00035\\ 1370 0.0014 0.0016\\ 1375 0.00044 0.00042\\ 1380 0.0011 0.0013\\ 1385 0.00041 0.00039\\ 1390 0.0012 0.0014\\ 1395 0.00051 0.00049\\
1400 0.001 0.0012\\ 1405 0.00037 0.00035\\ 1410 0.0016 0.0018\\ 1415 0.00044 0.00042\\ 1420 0.0018 0.003\\ 1425 0.00054 0.00051\\ 1430 0.0011 0.0013\\ 1435 0.00038 0.00036\\ 1440 0.0025 0.0061\\ 1445 0.00045 0.00043\\
1450 0.0012 0.0014\\ 1455 0.0005 0.00048\\ 1460 0.0013 0.0015\\ 1465 0.00034 0.00033\\ 1470 0.001 0.0012\\ 1475 0.0004 0.00038\\ 1480 0.0025 0.0044\\ 1485 0.00033 0.0003\\ 1490 0.0011 0.0013\\ 1495 0.00047 0.00045\\
1500 0.0012 0.0014\\ 1505 0.00034 0.00032\\ 1510 0.001 0.0012\\ 1515 0.0004 0.00039\\ 1520 0.0015 0.0017\\ 1525 0.00049 0.00047\\ 1530 0.0046 0.0028\\ 1535 0.00035 0.00033\\ 1540 0.0011 0.0013\\ 1545 0.00042 0.0004\\
1550 0.0013 0.0015\\ 1555 0.00046 0.00044\\ 1560 0.001 0.0012\\ 1565 0.00031 0.0003\\ 1570 0.0025 0.0037\\ 1575 0.00037 0.00036\\ 1580 0.0011 0.0013\\ 1585 0.00036 0.00034\\ 1590 0.0034 0.002\\ 1595 0.0003 0.00023\\
1600 0.0011 0.0013\\ 1605 0.00044 0.00042\\ 1610 0.0012 0.0014\\ 1615 0.00031 0.0003\\ 1620 0.001 0.0012\\ 1625 0.00038 0.00036\\ 1630 0.0015 0.0017\\ 1635 0.00047 0.00045\\ 1640 0.0011 0.0013\\ 1645 0.00033 0.00031\\
1650 0.001 0.0012\\ 1655 0.00028 0.0002\\ 1660 0.004 0.0118\\ 1665 0.0004 0.00038\\ 1670 0.0011 0.0013\\ 1675 0.00045 0.00043\\ 1680 0.0012 0.0014\\ 1685 0.00029 0.00028\\ 1690 0.0025 0.0044\\ 1695 0.00035 0.00034\\
1700 0.001 0.0012\\ 1705 0.00034 0.00032\\ 1710 0.0013 0.0015\\ 1715 0.00042 0.0004\\ 1720 0.0079 0.003\\ 1725 0.0003 0.00029\\ 1730 0.0011 0.0013\\ 1735 0.00037 0.00035\\ 1740 0.0012 0.0014\\ 1745 0.00044 0.00042\\
1750 0.001 0.0012\\ 1755 0.00031 0.00029\\ 1760 0.0015 0.0017\\ 1765 0.00037 0.00036\\ 1770 0.0011 0.0013\\ 1775 0.00042 0.0004\\ 1780 0.0012 0.0014\\ 1785 0.00028 0.00027\\ 1790 0.001 0.0012\\ 1795 0.00034 0.00033\\
1800 0.0092 0.004\\ 1805 0.00033 0.00031\\ 1810 0.0011 0.0013\\ 1815 0.0004 0.00039\\ 1820 0.0013 0.0015\\ 1825 0.00028 0.00027\\ 1830 0.0011 0.0013\\ 1835 0.00025 0.00023\\ 1840 0.0025 0.004\\ 1845 0.00042 0.0004\\
1850 0.0011 0.0013\\ 1855 0.0003 0.00029\\ 1860 0.0044 0.002\\ 1865 0.00036 0.00035\\ 1870 0.0011 0.0013\\ 1875 0.0004 0.00039\\ 1880 0.0022 0.0035\\ 1885 0.00027 0.00026\\ 1890 0.0011 0.0013\\ 1895 0.00033 0.00032\\
1900 0.0025 0.0043\\ 1905 0.00032 0.0003\\ 1910 0.0011 0.0013\\ 1915 0.00039 0.00038\\ 1920 0.003 0.0062\\ 1925 0.00028 0.00027\\ 1930 0.0011 0.0013\\ 1935 0.00025 0.00022\\ 1940 0.0025 0.0047\\ 1945 0.00042 0.0004\\
1950 0.0011 0.0013\\ 1955 0.0003 0.00029\\ 1960 0.003 0.0081\\ 1965 0.00036 0.00035\\ 1970 0.0011 0.0013\\ 1975 0.00022 0.00017\\ 1980 0.0025 0.0059\\ 1985 0.0004 0.00039\\ 1990 0.0012 0.0027\\ 1995 0.00027 0.00026\\
2000 0.00045 0.00032\\
}\tabBL

\pgfplotstableread[row sep=\\]{
x t v\\
0 0.116 0.0275\\ 5 0.012 0.0158\\ 10 0.0045 0.004\\ 15 0.006 0.007\\ 20 0.0022 0.002\\ 25 0.008 0.0124\\ 30 0.0017 0.0015\\ 35 0.007 0.0101\\ 40 0.0016 0.0014\\ 45 0.005 0.006\\
50 0.0015 0.0013\\ 55 0.006 0.007\\ 60 0.0014 0.0012\\ 65 0.008 0.0101\\ 70 0.0013 0.0012\\ 75 0.008 0.0198\\ 80 0.0011 0.001\\ 85 0.005 0.0055\\ 90 0.001 0.0009\\ 95 0.0146 0.006\\
100 0.0009 0.0008\\ 105 0.004 0.0045\\ 110 0.0008 0.0007\\ 115 0.006 0.0103\\ 120 0.00088 0.00081\\ 125 0.0055 0.0074\\ 130 0.00059 0.00054\\ 135 0.008 0.0307\\ 140 0.00066 0.0006\\ 145 0.0061 0.0035\\
150 0.00074 0.00068\\ 155 0.003 0.0035\\ 160 0.00049 0.00046\\ 165 0.0052 0.004\\ 170 0.00058 0.00053\\ 175 0.0025 0.003\\ 180 0.00062 0.00057\\ 185 0.003 0.0035\\ 190 0.0004 0.00037\\ 195 0.002 0.0024\\
200 0.00046 0.00042\\ 205 0.0022 0.0026\\ 210 0.00042 0.00038\\ 215 0.005 0.0035\\ 220 0.0005 0.00046\\ 225 0.0018 0.0021\\ 230 0.0087 0.004\\ 235 0.00035 0.00032\\ 240 0.0017 0.002\\ 245 0.00042 0.00039\\
250 0.002 0.0023\\ 255 0.0005 0.00046\\ 260 0.0016 0.0019\\ 265 0.00034 0.00031\\ 270 0.004 0.0095\\ 275 0.0004 0.00038\\ 280 0.0069 0.0118\\ 285 0.00044 0.00042\\ 290 0.0015 0.0017\\ 295 0.00029 0.00027\\
300 0.0024 0.002\\ 305 0.00034 0.00032\\ 310 0.0014 0.0016\\ 315 0.00032 0.0003\\ 320 0.0015 0.0017\\ 325 0.00039 0.00036\\ 330 0.0012 0.0014\\ 335 0.00025 0.00023\\ 340 0.0013 0.0015\\ 345 0.00033 0.00031\\
350 0.0042 0.0025\\ 355 0.00041 0.00038\\ 360 0.0012 0.0014\\ 365 0.00028 0.00026\\ 370 0.0043 0.002\\ 375 0.00033 0.00031\\ 380 0.0011 0.0013\\ 385 0.00036 0.00034\\ 390 0.0015 0.0018\\ 395 0.00025 0.00023\\
400 0.0031 0.0022\\ 405 0.00028 0.00026\\ 410 0.004 0.016\\ 415 0.00027 0.00025\\ 420 0.0028 0.0014\\ 425 0.00033 0.0003\\ 430 0.0012 0.0014\\ 435 0.00023 0.00022\\ 440 0.004 0.0145\\ 445 0.00028 0.00025\\
450 0.001 0.0012\\ 455 0.00034 0.00031\\ 460 0.0012 0.0014\\ 465 0.00023 0.00021\\ 470 0.0009 0.0011\\ 475 0.00028 0.00025\\ 480 0.0011 0.0013\\ 485 0.0002 0.00018\\ 490 0.0046 0.0025\\ 495 0.0003 0.00027\\
500 0.0009 0.0011\\ 505 0.0002 0.00018\\ 510 0.0011 0.0013\\ 515 0.00023 0.00021\\ 520 0.0009 0.0011\\ 525 0.00022 0.0002\\ 530 0.0012 0.0014\\ 535 0.00028 0.00025\\ 540 0.0039 0.0022\\ 545 0.00019 0.00018\\
550 0.0009 0.0011\\ 555 0.00023 0.00022\\ 560 0.0007 0.0008\\ 565 0.00028 0.00026\\ 570 0.001 0.0012\\ 575 0.0035 0.0015\\ 580 0.0002 0.00018\\ 585 0.0033 0.0018\\ 590 0.00023 0.00022\\ 595 0.001 0.0012\\
600 0.00026 0.00025\\ 605 0.003 0.0013\\ 610 0.00018 0.00017\\ 615 0.0009 0.0011\\ 620 0.00021 0.0002\\ 625 0.0017 0.0014\\ 630 0.0009 0.0011\\ 635 0.00016 0.000145\\ 640 0.0025 0.0038\\ 645 0.0002 0.00019\\
650 0.0009 0.0011\\ 655 0.00025 0.00024\\ 660 0.0011 0.0013\\ 665 0.00018 0.00017\\ 670 0.0071 0.0035\\ 675 0.00022 0.0002\\ 680 0.0009 0.0011\\ 685 0.00026 0.00024\\ 690 0.0011 0.0013\\ 695 0.00018 0.00017\\
700 0.0008 0.001\\ 705 0.00022 0.00021\\ 710 0.0026 0.0015\\ 715 0.00025 0.00023\\ 720 0.0009 0.0011\\ 725 0.00016 0.000145\\ 730 0.0006 0.0007\\ 735 0.00017 0.00016\\ 740 0.0032 0.0015\\ 745 0.0002 0.00019\\
750 0.0009 0.0011\\ 755 0.00018 0.00017\\ 760 0.001 0.0012\\ 765 0.00023 0.00021\\ 770 0.0008 0.001\\ 775 0.00016 0.00015\\ 780 0.0012 0.0014\\ 785 0.0002 0.00019\\ 790 0.0026 0.0015\\ 795 0.00024 0.00023\\
800 0.0009 0.0011\\ 805 0.00017 0.00016\\ 810 0.0008 0.001\\ 815 0.00013 0.000114\\ 820 0.0027 0.0016\\ 825 0.00021 0.0002\\ 830 0.0027 0.0015\\ 835 0.00023 0.00022\\ 840 0.0008 0.001\\ 845 0.00015 0.00014\\
850 0.0011 0.0013\\ 855 0.00018 0.00017\\ 860 0.0009 0.0011\\ 865 0.00015 0.000137\\ 870 0.0035 0.0073\\ 875 0.00017 0.00016\\ 880 0.0008 0.001\\ 885 0.00021 0.0002\\ 890 0.0011 0.0013\\ 895 0.00015 0.00014\\
900 0.0069 0.004\\ 905 0.00019 0.00018\\ 910 0.0009 0.0011\\ 915 0.00023 0.00022\\ 920 0.0035 0.0081\\ 925 0.00016 0.00015\\ 930 0.0008 0.001\\ 935 0.0002 0.00018\\ 940 0.0007 0.0008\\ 945 0.00022 0.00021\\
950 0.001 0.0012\\ 955 0.00015 0.000135\\ 960 0.003 0.0053\\ 965 0.00015 0.00014\\ 970 0.0008 0.001\\ 975 0.00018 0.00017\\ 980 0.0011 0.0013\\ 985 0.00017 0.00016\\ 990 0.0009 0.0011\\ 995 0.00021 0.0002\\
1000 0.0041 0.0022\\ 1005 0.00015 0.00014\\ 1010 0.0007 0.0009\\ 1015 0.00018 0.00017\\ 1020 0.0009 0.0011\\ 1025 0.00022 0.0002\\ 1030 0.0007 0.0008\\ 1035 0.00015 0.00014\\ 1040 0.0025 0.0037\\ 1045 0.00014 0.00013\\
1050 0.0008 0.0009\\ 1055 0.00018 0.00017\\ 1060 0.0042 0.002\\ 1065 0.00021 0.0002\\ 1070 0.0007 0.0008\\ 1075 0.00014 0.00013\\ 1080 0.0006 0.0007\\ 1085 0.00017 0.00016\\ 1090 0.0009 0.001\\ 1095 0.00016 0.00015\\
1100 0.001 0.0012\\ 1105 0.0002 0.00019\\ 1110 0.0055 0.0036\\ 1115 0.00014 0.000135\\ 1120 0.0007 0.0008\\ 1125 0.00018 0.00017\\ 1130 0.0012 0.0024\\ 1135 0.00022 0.0002\\ 1140 0.0036 0.0015\\ 1145 0.00015 0.00014\\
1150 0.0007 0.0008\\ 1155 0.00018 0.00017\\ 1160 0.0009 0.0011\\ 1165 0.00021 0.0002\\ 1170 0.0006 0.0007\\ 1175 0.00014 0.00013\\ 1180 0.0029 0.0014\\ 1185 0.00017 0.00016\\ 1190 0.0008 0.0009\\ 1195 0.00016 0.00015\\
1200 0.0046 0.002\\ 1205 0.0002 0.00019\\ 1210 0.0007 0.0008\\ 1215 0.00014 0.000135\\ 1220 0.01 0.0035\\ 1225 0.00018 0.00017\\ 1230 0.002 0.0037\\ 1235 0.00022 0.0002\\ 1240 0.0008 0.0009\\ 1245 0.00015 0.00014\\
1250 0.001 0.0012\\ 1255 0.00018 0.00017\\ 1260 0.003 0.0056\\ 1265 0.00021 0.0002\\ 1270 0.0007 0.0008\\ 1275 0.00014 0.00013\\ 1280 0.003 0.0054\\ 1285 0.00017 0.00016\\ 1290 0.003 0.0018\\ 1295 0.00016 0.00015\\
1300 0.002 0.0045\\ 1305 0.0002 0.00019\\ 1310 0.0007 0.0008\\ 1315 0.00014 0.000135\\ 1320 0.0009 0.0011\\ 1325 0.00014 0.00013\\ 1330 0.0034 0.0016\\ 1335 0.00018 0.00017\\ 1340 0.0007 0.0008\\ 1345 0.00022 0.0002\\
1350 0.003 0.0017\\ 1355 0.00015 0.00014\\ 1360 0.0008 0.0009\\ 1365 0.00018 0.00017\\ 1370 0.001 0.0012\\ 1375 0.00021 0.0002\\ 1380 0.0007 0.0008\\ 1385 0.00014 0.00013\\ 1390 0.0006 0.0007\\ 1395 0.00017 0.00016\\
1400 0.0008 0.0009\\ 1405 0.00012 0.00011\\ 1410 0.001 0.0012\\ 1415 0.00016 0.00015\\ 1420 0.0007 0.0008\\ 1425 0.0002 0.00019\\ 1430 0.0011 0.0013\\ 1435 0.00014 0.000135\\ 1440 0.0025 0.0061\\ 1445 0.00018 0.00017\\
1450 0.0007 0.0008\\ 1455 0.00022 0.0002\\ 1460 0.0012 0.0014\\ 1465 0.00015 0.00014\\ 1470 0.0008 0.0009\\ 1475 0.00018 0.00017\\ 1480 0.0015 0.0018\\ 1485 0.00021 0.0002\\ 1490 0.0007 0.0008\\ 1495 0.00014 0.00013\\
1500 0.0012 0.0028\\ 1505 0.00017 0.00016\\ 1510 0.0007 0.0008\\ 1515 0.00016 0.00015\\ 1520 0.0058 0.0076\\ 1525 0.0002 0.00019\\ 1530 0.0008 0.0009\\ 1535 0.00014 0.000135\\ 1540 0.0012 0.0014\\ 1545 0.00018 0.00017\\
1550 0.0007 0.0008\\ 1555 0.00022 0.0002\\ 1560 0.0007 0.0008\\ 1565 0.00015 0.00014\\ 1570 0.003 0.0065\\ 1575 0.00015 0.00014\\ 1580 0.0008 0.0009\\ 1585 0.00011 0.000105\\ 1590 0.0061 0.003\\ 1595 0.00018 0.00017\\
1600 0.0008 0.0009\\ 1605 0.00021 0.0002\\ 1610 0.0009 0.0011\\ 1615 0.00014 0.00013\\ 1620 0.0007 0.0008\\ 1625 0.00017 0.00016\\ 1630 0.0032 0.0015\\ 1635 0.00016 0.00015\\ 1640 0.0007 0.0008\\ 1645 0.0002 0.00019\\
1650 0.0011 0.0013\\ 1655 0.00014 0.000135\\ 1660 0.0007 0.0008\\ 1665 0.00018 0.00017\\ 1670 0.0012 0.0014\\ 1675 0.00022 0.0002\\ 1680 0.0007 0.0008\\ 1685 0.00015 0.00014\\ 1690 0.003 0.0063\\ 1695 0.00018 0.00017\\
1700 0.0008 0.0009\\ 1705 0.00021 0.0002\\ 1710 0.002 0.0038\\ 1715 0.00014 0.00013\\ 1720 0.0061 0.0025\\ 1725 0.00017 0.00016\\ 1730 0.0007 0.0008\\ 1735 0.00016 0.00015\\ 1740 0.0007 0.0008\\ 1745 0.0002 0.00019\\
1750 0.0009 0.001\\ 1755 0.00014 0.000135\\ 1760 0.0012 0.0014\\ 1765 0.00018 0.00017\\ 1770 0.003 0.0052\\ 1775 0.00015 0.00014\\ 1780 0.0007 0.0008\\ 1785 0.00022 0.0002\\ 1790 0.0012 0.0014\\ 1795 0.00015 0.00014\\
1800 0.0094 0.0024\\ 1805 0.00018 0.00017\\ 1810 0.0007 0.0008\\ 1815 0.00021 0.0002\\ 1820 0.0018 0.0035\\ 1825 0.00014 0.00013\\ 1830 0.0008 0.0009\\ 1835 0.00015 0.00014\\ 1840 0.0015 0.0026\\ 1845 0.00017 0.00016\\
1850 0.0007 0.0008\\ 1855 0.00016 0.00015\\ 1860 0.0035 0.0016\\ 1865 0.0002 0.00019\\ 1870 0.0008 0.0009\\ 1875 0.00014 0.000135\\ 1880 0.005 0.0188\\ 1885 0.00015 0.00014\\ 1890 0.0007 0.0008\\ 1895 0.00018 0.00017\\
1900 0.0015 0.0033\\ 1905 0.00022 0.0002\\ 1910 0.0008 0.0009\\ 1915 0.00015 0.00014\\ 1920 0.004 0.0126\\ 1925 0.00015 0.00014\\ 1930 0.0007 0.0008\\ 1935 0.00018 0.00017\\ 1940 0.0039 0.002\\ 1945 0.00021 0.0002\\
1950 0.0008 0.0009\\ 1955 0.00014 0.00013\\ 1960 0.004 0.0108\\ 1965 0.00015 0.00014\\ 1970 0.0007 0.0008\\ 1975 0.00017 0.00016\\ 1980 0.003 0.0098\\ 1985 0.00016 0.00015\\ 1990 0.0012 0.0022\\ 1995 0.0002 0.00019\\
2000 0.00022 0.00017\\
}\tabBR

\pgfplotsset{
  panel/.style={
    scale only axis, width=448pt, height=300.7pt,
    anchor=south west,
    xmin=-100, xmax=2100,
    xtick={0,250,...,2000},
    grid=major,
    major grid style={draw=cGrid, line width=0.8pt},
    axis line style={draw=cSpine, line width=1pt},
    major tick length=0pt, minor tick length=0pt,
    xminorticks=false, yminorticks=false,
    tick label style={font=\fontsize{10}{12}\selectfont, color=cText},
    /pgf/number format/assume math mode=true,
    /pgf/number format/1000 sep={},
    xticklabel shift=3.7pt,
    yticklabel shift=3.7pt,
    label style={font=\fontsize{10}{12}\selectfont, color=cText},
    every axis title/.style={at={(0.5,1)}, anchor=base, yshift=6pt, font=\fontsize{12}{14}\selectfont, color=cText},
    xlabel={Epoch},
    legend cell align=left,
    legend style={at={(1,1)}, anchor=north east, xshift=-5pt, yshift=-5pt,
      draw=cSpine, line width=0.8pt, rounded corners=2.5pt,
      fill=white, fill opacity=0.8, draw opacity=1, text opacity=1,
      font=\fontsize{10}{12}\selectfont, text=cText,
      inner xsep=2.5pt, inner ysep=2.5pt, row sep=1.3pt,
      nodes={inner sep=1.5pt, text height=7.3pt, text depth=0pt},
      /tikz/every odd column/.append style={column sep=5pt}},
    legend image code/.code={\draw[#1, line width=2pt] (0pt,3.5pt) -- (20pt,3.5pt);},
  },
  trainline/.style={color=cTrain, line width=2pt, line join=round, no markers},
  valline/.style={color=cVal, line width=2pt, line join=round, no markers},
}

\begin{document}
\begin{tikzpicture}
\useasboundingbox (0,0) rectangle (1000pt,712.2pt);

\begin{axis}[panel, at={(46.5pt,389.4pt)},
  ymode=log, ymin=0.0113, ymax=4.53,
  ytick={0.1,1}, yticklabels={10\textsuperscript{−1},10\textsuperscript{0}},
  title={Total Loss}, ylabel={Total Loss}]
\addplot[trainline] table[x=x,y=t]{\tabTL};
\addplot[valline] table[x=x,y=v]{\tabTL};
\legend{Train,Val}
\end{axis}

\begin{axis}[panel, at={(545.3pt,389.4pt)},
  ymin=0.453, ymax=1.2685,
  ytick={0.5,0.6,...,1.21},
  yticklabel style={/pgf/number format/.cd, fixed, fixed zerofill, precision=1},
  title={Relative L² Error}, ylabel={Relative L² Error}]
\addplot[trainline] table[x=x,y=t]{\tabTR};
\addplot[valline] table[x=x,y=v]{\tabTR};
\legend{Train,Val}
\end{axis}

\begin{axis}[panel, at={(46.5pt,35.5pt)},
  ymode=log, ymin=1.25e-4, ymax=0.2767,
  ytick={0.001,0.01,0.1}, yticklabels={10\textsuperscript{−3},10\textsuperscript{−2},10\textsuperscript{−1}},
  title={MSE\tofu}, ylabel={MSE\tofu}]
\addplot[trainline] table[x=x,y=t]{\tabBL};
\addplot[valline] table[x=x,y=v]{\tabBL};
\legend{Train,Val}
\end{axis}

\begin{axis}[panel, at={(545.3pt,35.5pt)},
  ymode=log, ymin=7.6e-5, ymax=0.1637,
  ytick={0.0001,0.001,0.01,0.1}, yticklabels={10\textsuperscript{−4},10\textsuperscript{−3},10\textsuperscript{−2},10\textsuperscript{−1}},
  title={MSE\_b}, ylabel={MSE\_b}]
\addplot[trainline] table[x=x,y=t]{\tabBR};
\addplot[valline] table[x=x,y=v]{\tabBR};
\legend{Train,Val}
\end{axis}
\end{tikzpicture}
\end{document}
